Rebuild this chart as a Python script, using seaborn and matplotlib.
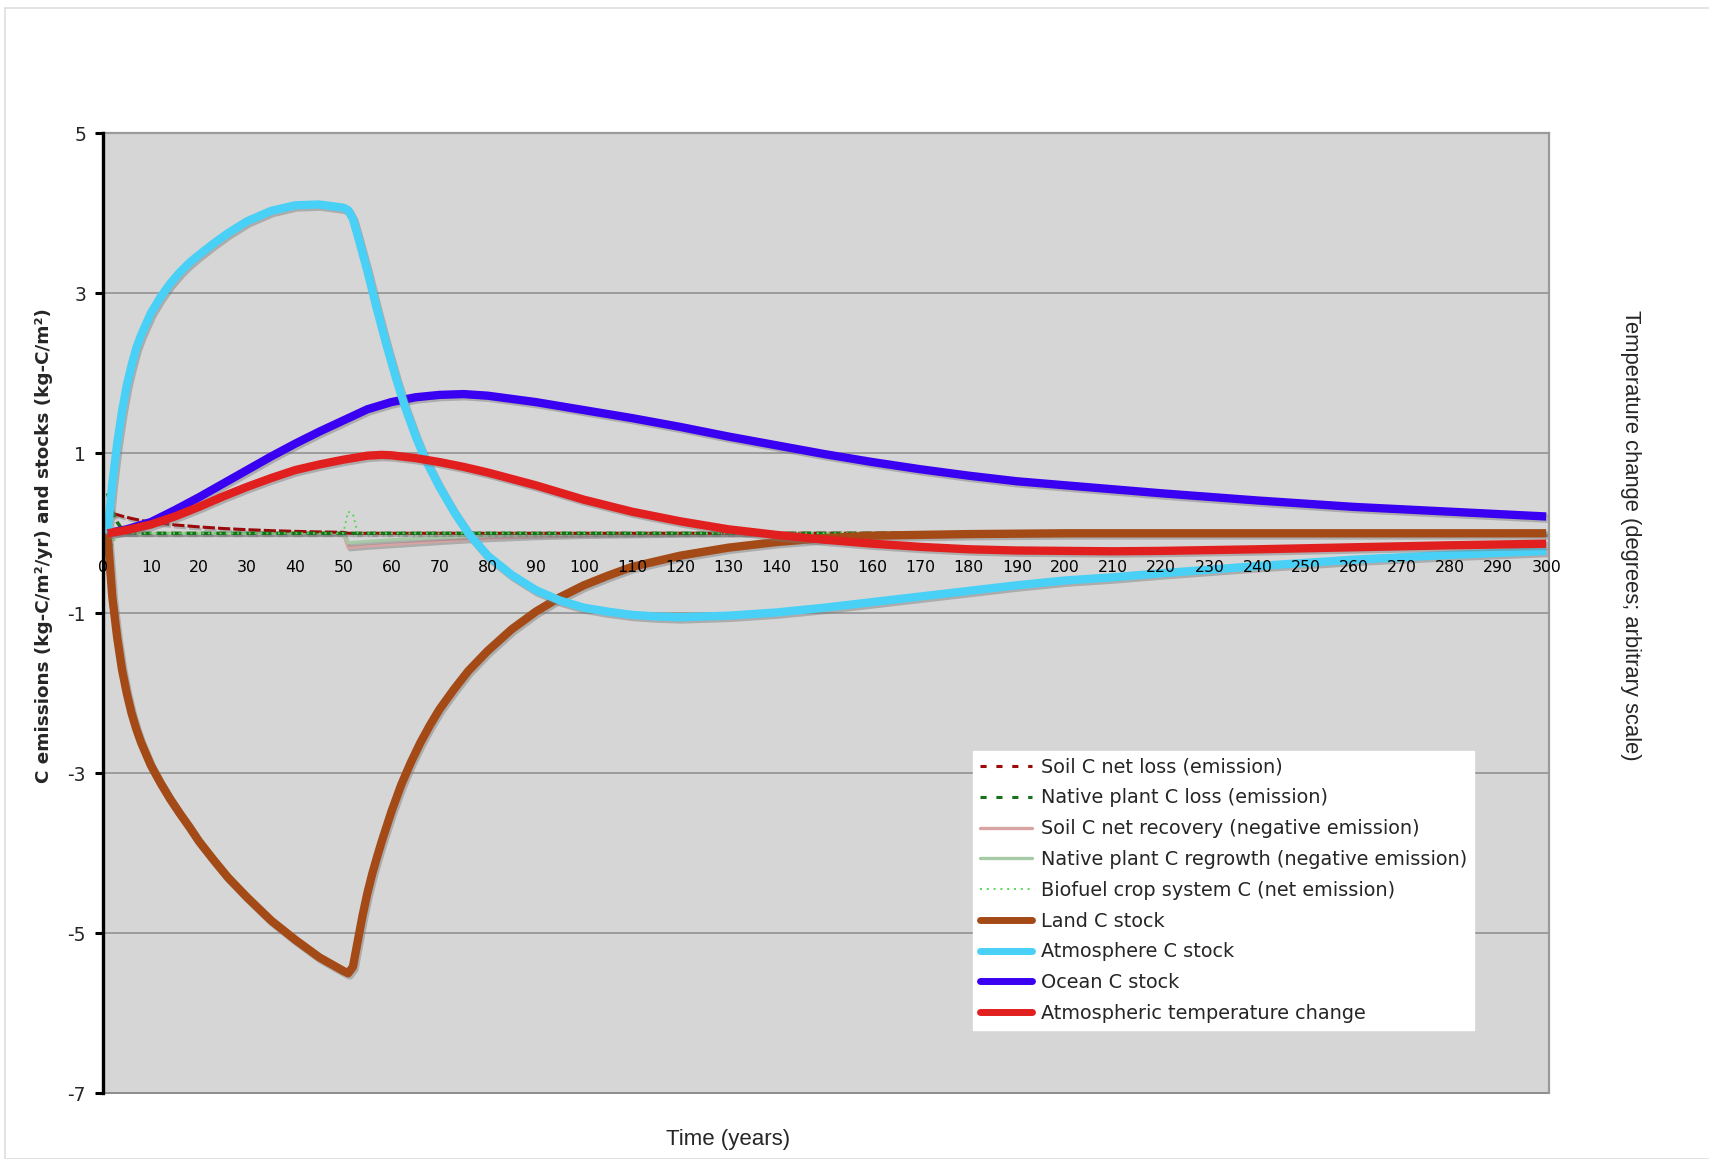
import matplotlib
matplotlib.use("Agg")
import matplotlib.pyplot as plt
import matplotlib.patheffects as pe
from matplotlib.lines import Line2D
import seaborn as sns
import pandas as pd

# ---- series (years, values) ----
soil_loss_years = [2, 4, 6, 8, 10, 15, 20, 25, 30, 35, 40, 45, 50, 51, 300]
soil_loss_vals = [0.25, 0.215, 0.185, 0.16, 0.14, 0.105, 0.08, 0.06, 0.045, 0.033, 0.024, 0.017, 0.012, 0.0, 0.0]

plant_loss_years = [1, 2, 3, 4, 5, 300]
plant_loss_vals = [0.5, 0.27, 0.14, 0.05, 0.0, 0.0]

soil_recov_years = [1, 50, 51, 55, 60, 70, 80, 90, 100, 120, 150, 300]
soil_recov_vals = [0.0, 0.0, -0.18, -0.16, -0.14, -0.1, -0.065, -0.04, -0.025, -0.01, 0.0, 0.0]

regrowth_years = [1, 50, 51, 55, 60, 70, 80, 100, 120, 300]
regrowth_vals = [0.0, 0.0, -0.12, -0.1, -0.08, -0.05, -0.03, -0.01, 0.0, 0.0]

biofuel_years = [1, 2, 3, 50, 51, 52, 53, 300]
biofuel_vals = [0.0, -0.15, 0.0, 0.0, 0.27, 0.24, 0.0, 0.0]

land_years = [1, 2, 3, 4, 5, 6, 7, 8, 10, 12, 14, 16, 18, 20, 23, 26, 30, 35, 40, 45, 50, 51,
              52, 53, 54, 55, 56, 57, 58, 60, 62, 64, 66, 68, 70, 73, 76, 80, 85, 90, 95, 100,
              105, 110, 120, 130, 140, 150, 160, 180, 200, 250, 300]
land_vals = [0.0, -0.8, -1.3, -1.7, -2.0, -2.25, -2.45, -2.62, -2.9, -3.12, -3.32, -3.5, -3.67,
             -3.85, -4.08, -4.3, -4.55, -4.84, -5.08, -5.3, -5.47, -5.5, -5.42, -5.1, -4.78,
             -4.5, -4.26, -4.05, -3.85, -3.48, -3.15, -2.87, -2.62, -2.4, -2.2, -1.95, -1.72,
             -1.47, -1.2, -0.98, -0.8, -0.65, -0.53, -0.42, -0.28, -0.18, -0.11, -0.06, -0.03,
             -0.01, 0.0, 0.0, 0.0]

atmos_years = [1, 2, 3, 4, 5, 6, 7, 8, 10, 12, 14, 16, 18, 20, 23, 26, 30, 35, 40, 45, 50, 51,
               52, 53, 54, 55, 57, 59, 61, 63, 65, 67, 70, 73, 76, 80, 85, 90, 95, 100, 105,
               110, 115, 120, 130, 140, 150, 160, 170, 180, 190, 200, 210, 220, 240, 260, 280,
               300]
atmos_vals = [0.0, 0.62, 1.12, 1.52, 1.85, 2.1, 2.32, 2.48, 2.75, 2.95, 3.12, 3.26, 3.38, 3.48,
              3.62, 3.75, 3.9, 4.03, 4.1, 4.11, 4.07, 4.04, 3.93, 3.72, 3.5, 3.28, 2.8, 2.35,
              1.93, 1.55, 1.22, 0.93, 0.58, 0.27, 0.0, -0.28, -0.52, -0.71, -0.84, -0.93,
              -0.98, -1.02, -1.04, -1.05, -1.03, -0.99, -0.93, -0.86, -0.79, -0.72, -0.65,
              -0.59, -0.55, -0.5, -0.41, -0.33, -0.27, -0.22]

ocean_years = [1, 5, 10, 15, 20, 25, 30, 35, 40, 45, 50, 55, 60, 65, 70, 75, 80, 90, 100, 110,
               120, 130, 140, 150, 160, 170, 180, 190, 200, 210, 220, 240, 260, 280, 300]
ocean_vals = [0.0, 0.05, 0.14, 0.29, 0.45, 0.62, 0.79, 0.96, 1.12, 1.27, 1.41, 1.55, 1.64, 1.7,
              1.73, 1.74, 1.72, 1.64, 1.54, 1.44, 1.33, 1.21, 1.1, 0.99, 0.89, 0.8, 0.72, 0.65,
              0.6, 0.55, 0.5, 0.41, 0.33, 0.27, 0.21]

temp_years = [1, 5, 10, 15, 20, 25, 30, 35, 40, 45, 50, 55, 58, 60, 65, 70, 75, 80, 85, 90, 100,
              110, 120, 130, 140, 150, 160, 170, 180, 190, 200, 210, 220, 240, 260, 280, 300]
temp_vals = [0.0, 0.04, 0.11, 0.21, 0.33, 0.46, 0.58, 0.69, 0.79, 0.86, 0.92, 0.97, 0.98, 0.975,
             0.94, 0.89, 0.83, 0.76, 0.68, 0.6, 0.42, 0.27, 0.15, 0.05, -0.02, -0.08, -0.13,
             -0.17, -0.2, -0.215, -0.22, -0.225, -0.22, -0.2, -0.175, -0.15, -0.13]

x_ticks = list(range(0, 301, 10))
y_ticks = [5, 3, 1, -1, -3, -5, -7]

labels = [
    "Soil C net loss (emission)",
    "Native plant C loss (emission)",
    "Soil C net recovery (negative emission)",
    "Native plant C regrowth (negative emission)",
    "Biofuel crop system C (net emission)",
    "Land C stock",
    "Atmosphere C stock",
    "Ocean C stock",
    "Atmospheric temperature change",
]

C_SOIL_LOSS = "#9b0a0a"
C_PLANT_LOSS = "#17701b"
C_SOIL_REC = "#d7a3a3"
C_REGROW = "#a6c9a6"
C_BIOFUEL = "#5ad65a"
C_LAND = "#a44a17"
C_ATMOS = "#48d0f6"
C_OCEAN = "#3a00f2"
C_TEMP = "#e11f1f"

sns.set_style("white")
plt.rcParams["font.family"] = ["DejaVu Sans"]

fig = plt.figure(figsize=(17.09, 11.59), dpi=100)
ax = fig.add_axes([0.0601, 0.0567, 0.8463, 0.8283])
ax.set_facecolor("#d6d6d6")

shadow = [pe.SimpleLineShadow(offset=(1.2, -1.6), shadow_color="#7a7a7a", alpha=0.45), pe.Normal()]


def draw(xs, ys, color, lw, dashes=None, z=2, shade=True):
    df = pd.DataFrame({"year": xs, "value": ys})
    sns.lineplot(data=df, x="year", y="value", ax=ax, color=color, linewidth=lw,
                 estimator=None, sort=False, legend=False, zorder=z)
    ln = ax.lines[-1]
    if dashes is not None:
        ln.set_dashes(dashes)
    ln.set_solid_capstyle("butt")
    ln.set_dash_capstyle("butt")
    ln.set_solid_joinstyle("round")
    if shade:
        ln.set_path_effects(shadow)
    return ln


draw(soil_recov_years, soil_recov_vals, C_SOIL_REC, 2.2, z=3)
draw(regrowth_years, regrowth_vals, C_REGROW, 2.2, z=3)
draw(soil_loss_years, soil_loss_vals, C_SOIL_LOSS, 2.2, dashes=(4, 1), z=3)
draw(plant_loss_years, plant_loss_vals, C_PLANT_LOSS, 2.4, dashes=(3, 1.5), z=3.5)
draw(biofuel_years, biofuel_vals, C_BIOFUEL, 1.4, dashes=(1, 2), z=3.6, shade=False)
draw(ocean_years, ocean_vals, C_OCEAN, 6.0, z=4)
draw(land_years, land_vals, C_LAND, 6.0, z=4.5)
draw(atmos_years, atmos_vals, C_ATMOS, 6.0, z=5)
draw(temp_years, temp_vals, C_TEMP, 6.0, z=5.5)

# axes limits, grid and frame
ax.set_xlim(0, 300.6)
ax.set_ylim(-7, 5)
for yv in [3, 1, -1, -3, -5]:
    ax.axhline(yv, color="#8c8c8c", lw=1.1, zorder=1)
ax.axhline(-7, color="#8c8c8c", lw=1.4, zorder=1, clip_on=False)

for side in ["top", "right"]:
    ax.spines[side].set_color("#9a9a9a")
    ax.spines[side].set_linewidth(1.6)
ax.spines["left"].set_color("black")
ax.spines["left"].set_linewidth(2.4)
ax.spines["left"].set_zorder(10)
ax.spines["bottom"].set_position(("data", 0))
ax.spines["bottom"].set_color("none")

ax.set_xticks(x_ticks)
ax.set_xticklabels([str(v) for v in x_ticks])
ax.tick_params(axis="x", length=0, pad=19, labelsize=11.3, colors="black")
ax.set_yticks(y_ticks)
ax.set_yticklabels([str(v) for v in y_ticks])
ax.tick_params(axis="y", direction="out", length=6, width=2.2, color="black",
               labelsize=13.5, pad=6, left=True)
ax.xaxis.set_zorder(10)
ax.yaxis.set_zorder(10)
ax.set_xlabel("")
ax.set_ylabel("")

# axis titles
fig.text(44 / 1709, 1 - 546 / 1159, "C emissions (kg-C/m\u00b2/yr) and stocks (kg-C/m\u00b2)",
         rotation=90, ha="center", va="center", fontsize=13.2, fontweight="bold")
fig.text(1630 / 1709, 1 - 535 / 1159, "Temperature change (degrees; arbitrary scale)",
         rotation=-90, ha="center", va="center", fontsize=15.8, family="Liberation Sans")
fig.text(728 / 1709, 1 - 1140 / 1159, "Time (years)", ha="center", va="center",
         fontsize=16, family="Liberation Sans")

# legend
handles = [
    Line2D([], [], color=C_SOIL_LOSS, lw=2.2, dashes=(2, 3.2)),
    Line2D([], [], color=C_PLANT_LOSS, lw=2.2, dashes=(2, 3.2)),
    Line2D([], [], color=C_SOIL_REC, lw=2.4),
    Line2D([], [], color=C_REGROW, lw=2.4),
    Line2D([], [], color=C_BIOFUEL, lw=1.4, dashes=(1, 2.5)),
    Line2D([], [], color=C_LAND, lw=5),
    Line2D([], [], color=C_ATMOS, lw=5),
    Line2D([], [], color=C_OCEAN, lw=5),
    Line2D([], [], color=C_TEMP, lw=5),
]
leg = ax.legend(handles, labels, loc="upper left", bbox_to_anchor=(0.6017, 0.3566),
                borderaxespad=0, frameon=True, fancybox=False, fontsize=13.9,
                handlelength=2.7, handletextpad=0.45, labelspacing=0.61, borderpad=0.35)
leg.get_frame().set_facecolor("white")
leg.get_frame().set_edgecolor("white")
leg.get_frame().set_alpha(1)
leg.set_zorder(20)

# outer frame of the figure
fig.add_artist(plt.Rectangle((5 / 1709, 0), 1.2, 1 - 8 / 1159, transform=fig.transFigure,
                             fill=False, edgecolor="#dedede", lw=1.2))

fig.savefig("out.png", dpi=100, facecolor="white")
